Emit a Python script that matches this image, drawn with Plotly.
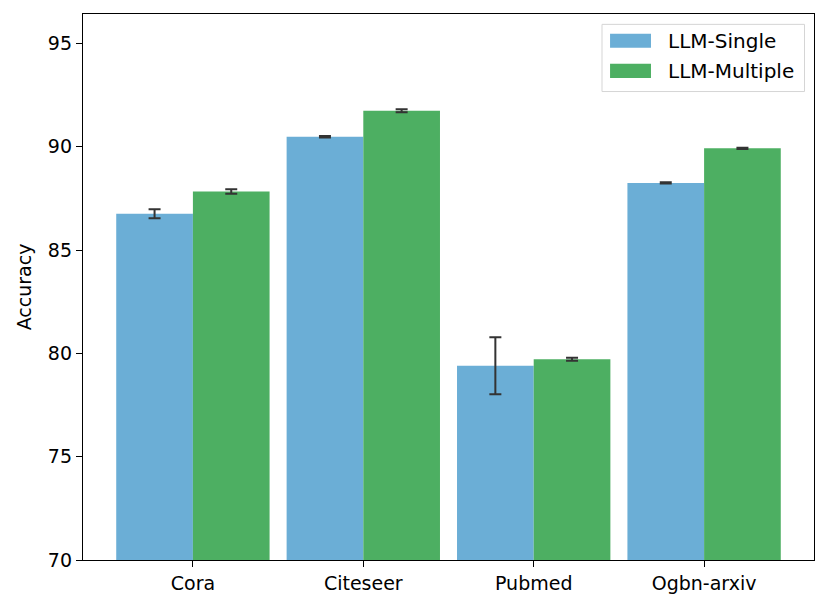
import plotly.graph_objects as go

datasets = ["Cora", "Citeseer", "Pubmed", "Ogbn-arxiv"]
single_acc = [86.76, 90.49, 79.40, 88.25]
single_err = [0.22, 0.04, 1.38, 0.03]
multiple_acc = [87.84, 91.75, 79.72, 89.93]
multiple_err = [0.11, 0.07, 0.07, 0.03]
y_ticks = [70, 75, 80, 85, 90, 95]

x_pos = list(range(len(datasets)))
font_name = "DejaVu Sans"
blue = "#6baed6"
green = "#4daf62"

err_style = dict(type="data", visible=True, color="#333333", thickness=2, width=6)

fig = go.Figure()
fig.add_trace(go.Bar(x=x_pos, y=single_acc, name="LLM-Single",
                     marker=dict(color=blue, line=dict(width=0)),
                     error_y=dict(array=single_err, **err_style)))
fig.add_trace(go.Bar(x=x_pos, y=multiple_acc, name="LLM-Multiple",
                     marker=dict(color=green, line=dict(width=0)),
                     error_y=dict(array=multiple_err, **err_style)))

# matplotlib-like legend drawn by hand (wide swatches)
fig.add_shape(type="rect", xref="paper", yref="paper",
              x0=0.710, x1=0.987, y0=0.858, y1=0.981,
              line=dict(color="#d5d5d5", width=1), fillcolor="white")
legend_rows = [("LLM-Single", blue, 0.951), ("LLM-Multiple", green, 0.896)]
for label, col, yc in legend_rows:
    fig.add_shape(type="rect", xref="paper", yref="paper",
                  x0=0.721, x1=0.777, y0=yc - 0.0130, y1=yc + 0.0130,
                  line=dict(width=0), fillcolor=col)
    fig.add_annotation(text=label, xref="paper", yref="paper",
                       x=0.798, y=yc, xanchor="left", yanchor="middle",
                       showarrow=False, font=dict(size=20, color="black"))

fig.update_layout(width=830, height=609,
                  margin=dict(l=75, r=24, t=6, b=57),
                  paper_bgcolor="white", plot_bgcolor="white",
                  barmode="group", bargap=0.1, bargroupgap=0,
                  showlegend=False,
                  font=dict(family=font_name, size=19, color="black"))

fig.update_xaxes(range=[-0.645, 3.645], tickvals=x_pos, ticktext=datasets,
                 showline=True, mirror=True, linecolor="black", linewidth=1.3,
                 ticks="outside", ticklen=6, tickwidth=1.3, tickcolor="black",
                 showgrid=False, zeroline=False)
fig.update_yaxes(range=[70, 96.43], tickvals=y_ticks,
                 title=dict(text="Accuracy", standoff=11, font=dict(size=19)),
                 showline=True, mirror=True, linecolor="black", linewidth=1.3,
                 ticks="outside", ticklen=6, tickwidth=1.3, tickcolor="black",
                 showgrid=False, zeroline=False)

fig.write_html("out.html")
